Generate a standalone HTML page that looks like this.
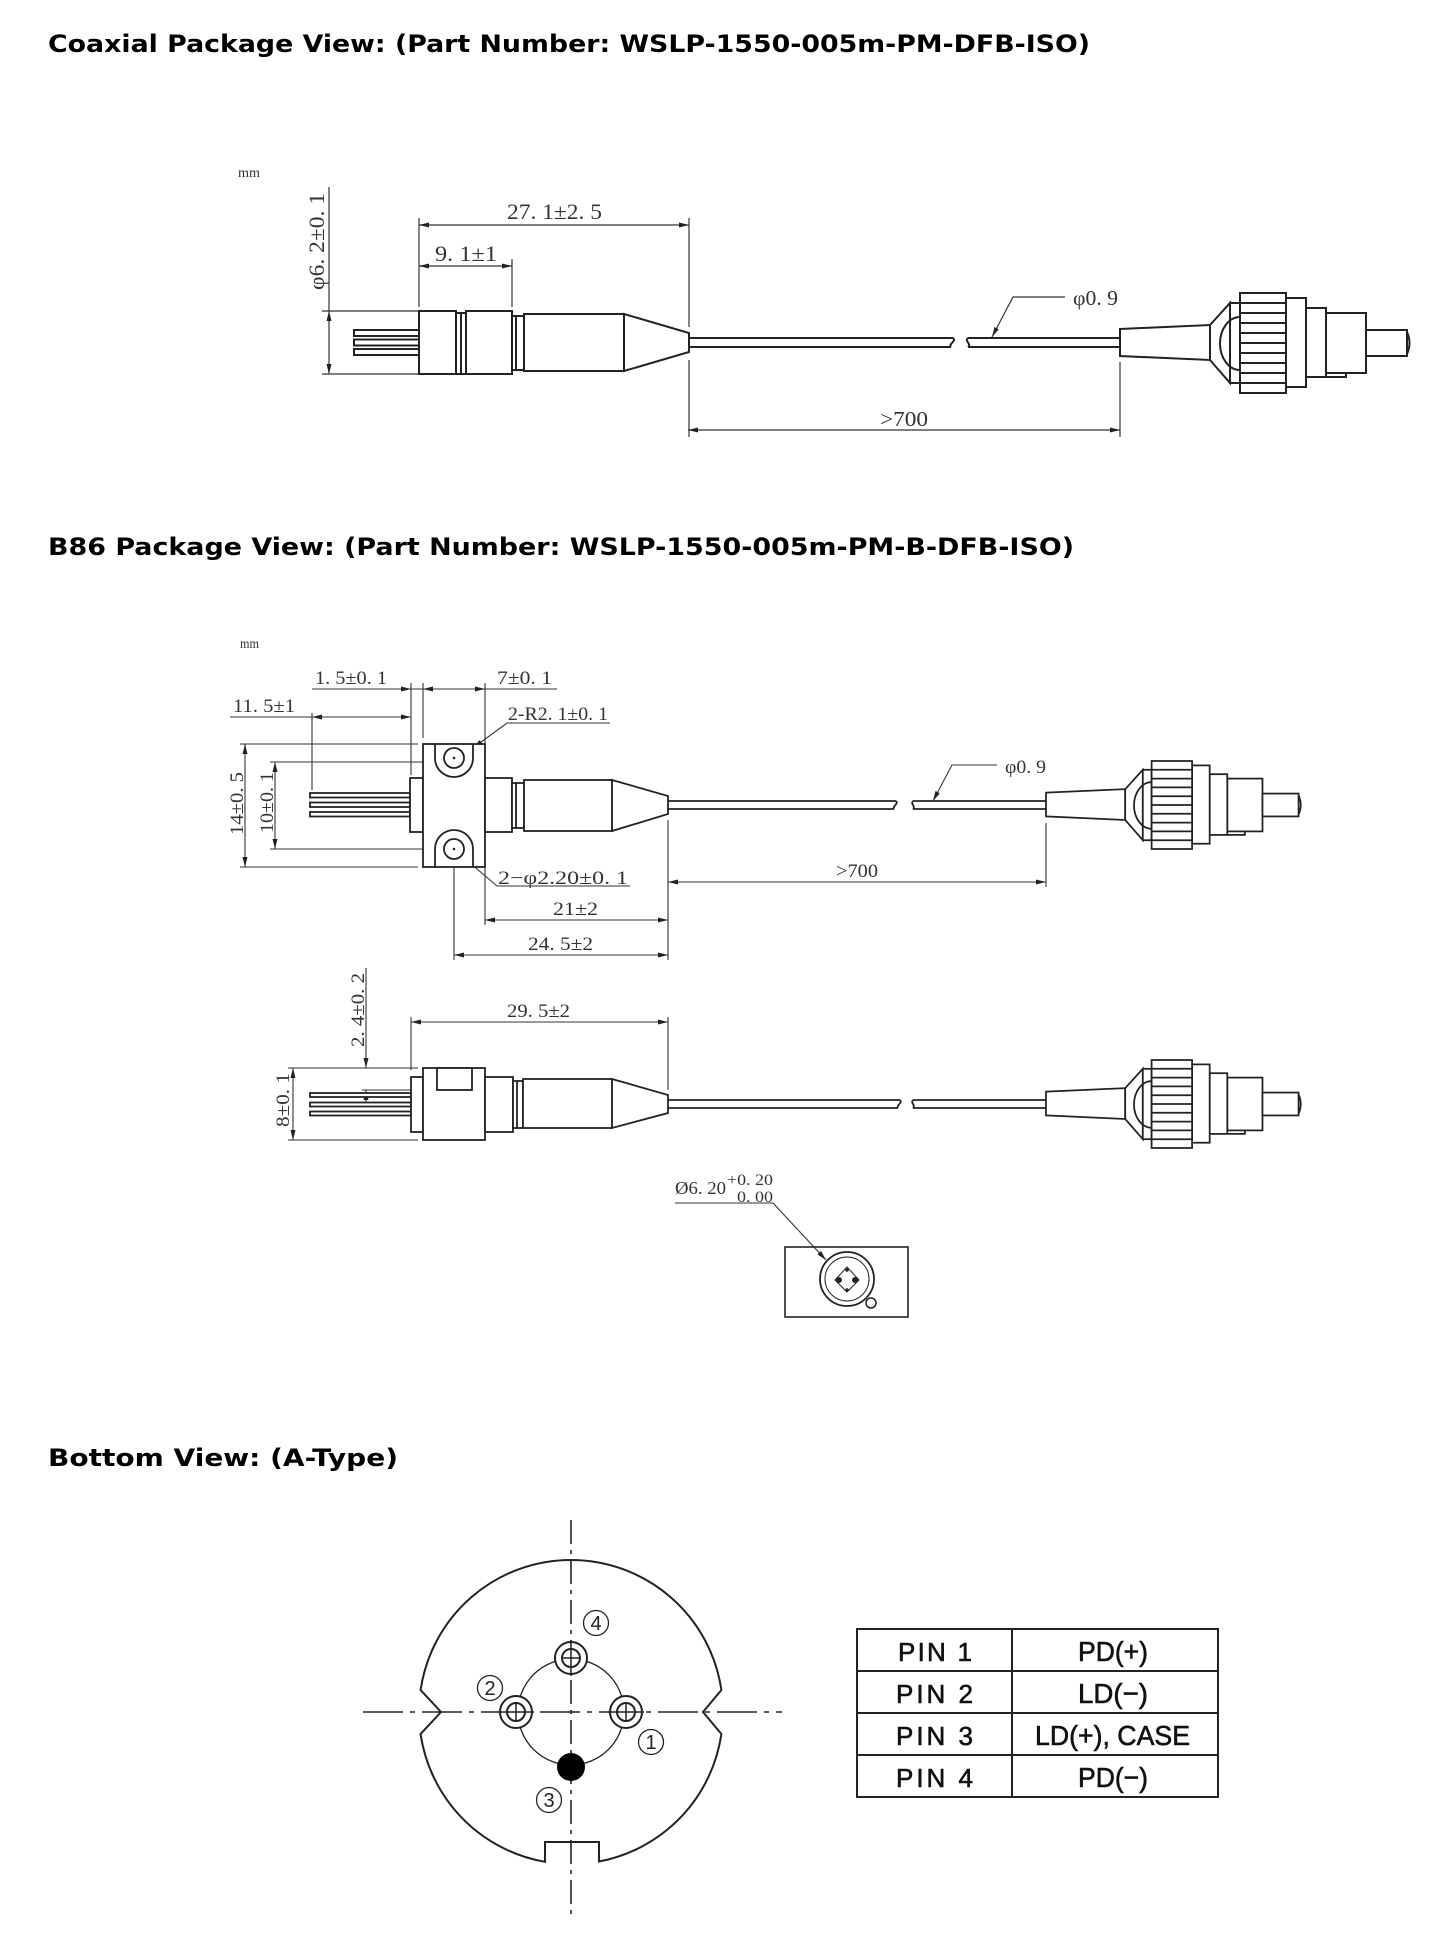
<!DOCTYPE html>
<html>
<head>
<meta charset="utf-8">
<style>
  html,body{margin:0;padding:0;background:#fff;}
  svg{display:block;}
</style>
</head>
<body>
<svg width="1454" height="1954" viewBox="0 0 1454 1954" xmlns="http://www.w3.org/2000/svg">
  <defs>
    <marker id="a" viewBox="0 0 10 6" refX="10" refY="3" markerWidth="10" markerHeight="6" markerUnits="userSpaceOnUse" orient="auto-start-reverse">
      <path d="M0,0.5 L10,3 L0,5.5 z" fill="#222"/>
    </marker>
    <g id="conn" fill="#fff" stroke="#222" stroke-width="2">
      <polygon points="1120,329 1210,325 1210,360 1120,356"/>
      <polygon points="1210,325 1230,303 1230,383 1210,360"/>
      <rect x="1230" y="303" width="10" height="80"/>
      <path d="M1240,317 A20,26.5 0 0 0 1240,370" fill="none"/>
      <rect x="1326" y="313" width="40" height="60"/>
      <path d="M1326,377 H1346 V373" fill="none"/>
      <rect x="1306" y="308" width="20" height="69"/>
      <rect x="1286" y="298" width="20" height="89"/>
      <rect x="1240" y="293" width="46" height="100"/>
      <path d="M1240,303 H1286 M1240,313 H1286 M1240,323 H1286 M1240,333 H1286 M1240,343 H1286 M1240,353 H1286 M1240,363 H1286 M1240,373 H1286 M1240,383 H1286" fill="none"/>
      <rect x="1366" y="330" width="41" height="26"/>
      <path d="M1407,332 Q1412,343 1407,354" fill="none"/>
    </g>
  </defs>

  <!-- ===== Titles ===== -->
  <g font-family="'DejaVu Sans', 'Liberation Sans', sans-serif" font-weight="bold" font-size="24" fill="#000">
    <text x="48" y="52" textLength="1042" lengthAdjust="spacingAndGlyphs">Coaxial Package View: (Part Number: WSLP-1550-005m-PM-DFB-ISO)</text>
    <text x="48" y="555" textLength="1026" lengthAdjust="spacingAndGlyphs">B86 Package View: (Part Number: WSLP-1550-005m-PM-B-DFB-ISO)</text>
    <text x="48" y="1466" textLength="350" lengthAdjust="spacingAndGlyphs">Bottom View: (A-Type)</text>
  </g>

  <!-- ===== COAXIAL ===== -->
  <text x="238" y="177" font-family="'Liberation Serif', serif" font-size="14" fill="#333" textLength="22" lengthAdjust="spacingAndGlyphs">mm</text>

  <g stroke="#333" stroke-width="1.2" fill="none">
    <line x1="329" y1="187" x2="329" y2="311"/>
    <line x1="329" y1="311" x2="329" y2="374" marker-start="url(#a)" marker-end="url(#a)"/>
    <line x1="322" y1="311" x2="419" y2="311"/>
    <line x1="322" y1="374" x2="420" y2="374"/>
    <line x1="419" y1="225" x2="689" y2="225" marker-start="url(#a)" marker-end="url(#a)"/>
    <line x1="419" y1="266" x2="512" y2="266" marker-start="url(#a)" marker-end="url(#a)"/>
    <line x1="419" y1="218" x2="419" y2="307"/>
    <line x1="512" y1="259" x2="512" y2="307"/>
    <line x1="689" y1="218" x2="689" y2="327"/>
    <line x1="689" y1="360" x2="689" y2="437"/>
    <line x1="1120" y1="362" x2="1120" y2="437"/>
    <line x1="688" y1="430" x2="1120" y2="430" marker-start="url(#a)" marker-end="url(#a)"/>
    <polyline points="1065,297 1013,297 992,337" marker-end="url(#a)"/>
  </g>
  <g font-family="'Liberation Serif', serif" fill="#333">
    <text x="507" y="219" font-size="22" textLength="95" lengthAdjust="spacingAndGlyphs">27. 1±2. 5</text>
    <text x="435" y="261" font-size="22" textLength="62" lengthAdjust="spacingAndGlyphs">9. 1±1</text>
    <text transform="translate(324,290) rotate(-90)" font-size="22" textLength="97" lengthAdjust="spacingAndGlyphs">φ6. 2±0. 1</text>
    <text x="1073" y="305" font-size="21" textLength="45" lengthAdjust="spacingAndGlyphs">φ0. 9</text>
    <text x="880" y="426" font-size="21" textLength="48" lengthAdjust="spacingAndGlyphs">&gt;700</text>
  </g>

  <g fill="#fff" stroke="#222" stroke-width="2">
    <rect x="354" y="330" width="65" height="6"/>
    <rect x="354" y="339.5" width="65" height="6"/>
    <rect x="354" y="349" width="65" height="6"/>
    <rect x="419" y="311" width="37" height="63"/>
    <rect x="456" y="313" width="5" height="61"/>
    <rect x="461" y="313" width="5" height="61"/>
    <rect x="466" y="311" width="46" height="63"/>
    <rect x="512" y="316" width="12" height="54"/>
    <line x1="516" y1="316" x2="516" y2="370"/>
    <rect x="524" y="314" width="100" height="57"/>
    <polygon points="624,314 689,333 689,352 624,371"/>
  </g>
  <g stroke="#222" stroke-width="2" fill="none">
    <path d="M689,338 H953 M689,347 H951"/>
    <path d="M953,338 C957,341 948,344 951,347"/>
    <path d="M968,338 H1122 M968,347 H1122"/>
    <path d="M968,338 C964,341 972,344 968,347"/>
  </g>
  <use href="#conn"/>

  <!-- ===== B86 TOP VIEW ===== -->
  <text x="240" y="648" font-family="'Liberation Serif', serif" font-size="14" fill="#333" textLength="19" lengthAdjust="spacingAndGlyphs">mm</text>

  <g stroke="#333" stroke-width="1.1" fill="none">
    <line x1="312" y1="689" x2="557" y2="689"/>
    <line x1="230" y1="717" x2="411" y2="717"/>
    <line x1="411" y1="683" x2="411" y2="775"/>
    <line x1="423" y1="683" x2="423" y2="738"/>
    <line x1="485" y1="683" x2="485" y2="743"/>
    <line x1="312" y1="713" x2="312" y2="790"/>
    <line x1="245" y1="744" x2="245" y2="867" marker-start="url(#a)" marker-end="url(#a)"/>
    <line x1="240" y1="744" x2="418" y2="744"/>
    <line x1="240" y1="867" x2="418" y2="867"/>
    <line x1="275" y1="762" x2="275" y2="849" marker-start="url(#a)" marker-end="url(#a)"/>
    <line x1="270" y1="762" x2="453" y2="762"/>
    <line x1="270" y1="849" x2="453" y2="849"/>
    <polyline points="610,723 507,723 473,748" marker-end="url(#a)"/>
    <polyline points="630,886 497,886 463,857" marker-end="url(#a)"/>
    <line x1="454" y1="867" x2="454" y2="960"/>
    <line x1="485" y1="867" x2="485" y2="925"/>
    <line x1="668" y1="820" x2="668" y2="960"/>
    <line x1="485" y1="920" x2="668" y2="920" marker-start="url(#a)" marker-end="url(#a)"/>
    <line x1="454" y1="955" x2="668" y2="955" marker-start="url(#a)" marker-end="url(#a)"/>
    <line x1="668" y1="882" x2="1046" y2="882" marker-start="url(#a)" marker-end="url(#a)"/>
    <line x1="1046" y1="823" x2="1046" y2="887"/>
    <polyline points="997,765 952,765 933,801" marker-end="url(#a)"/>
  </g>
  <g fill="#222">
    <polygon points="411,689 401,686.5 401,691.5"/>
    <polygon points="423,689 433,686.5 433,691.5"/>
    <polygon points="485,689 475,686.5 475,691.5"/>
    <polygon points="312,717 322,714.5 322,719.5"/>
    <polygon points="411,717 401,714.5 401,719.5"/>
  </g>
  <g font-family="'Liberation Serif', serif" fill="#333" font-size="19">
    <text x="315" y="684" textLength="72" lengthAdjust="spacingAndGlyphs">1. 5±0. 1</text>
    <text x="497" y="684" textLength="55" lengthAdjust="spacingAndGlyphs">7±0. 1</text>
    <text x="233" y="712" textLength="62" lengthAdjust="spacingAndGlyphs">11. 5±1</text>
    <text x="508" y="720" textLength="100" lengthAdjust="spacingAndGlyphs">2-R2. 1±0. 1</text>
    <text x="498" y="884" textLength="130" lengthAdjust="spacingAndGlyphs">2−φ2.20±0. 1</text>
    <text x="553" y="915" textLength="45" lengthAdjust="spacingAndGlyphs">21±2</text>
    <text x="528" y="950" textLength="65" lengthAdjust="spacingAndGlyphs">24. 5±2</text>
    <text x="836" y="877" textLength="42" lengthAdjust="spacingAndGlyphs">&gt;700</text>
    <text x="1005" y="773" textLength="41" lengthAdjust="spacingAndGlyphs">φ0. 9</text>
    <text transform="translate(243,835) rotate(-90)" textLength="63" lengthAdjust="spacingAndGlyphs">14±0. 5</text>
    <text transform="translate(273,833) rotate(-90)" textLength="61" lengthAdjust="spacingAndGlyphs">10±0. 1</text>
  </g>

  <g fill="#fff" stroke="#222" stroke-width="1.8">
    <rect x="310" y="793" width="100" height="4.5"/>
    <rect x="310" y="802.5" width="100" height="4.5"/>
    <rect x="310" y="812" width="100" height="4.5"/>
    <rect x="410" y="778" width="13" height="54"/>
    <rect x="423" y="744" width="62" height="123"/>
    <rect x="485" y="778" width="27" height="54"/>
    <rect x="512" y="783" width="12" height="45"/>
    <line x1="516" y1="783" x2="516" y2="828"/>
    <rect x="524" y="780" width="88" height="51"/>
    <polygon points="612,780 668,796 668,814 612,831"/>
  </g>
  <g fill="none" stroke="#222" stroke-width="1.8">
    <path d="M435,744 V758 A19,19 0 0 0 473,758 V744"/>
    <circle cx="454" cy="758" r="10"/>
    <path d="M435,867 V849 A19,19 0 0 1 473,849 V867"/>
    <circle cx="454" cy="849" r="10"/>
  </g>
  <circle cx="454" cy="758" r="1.3" fill="#222"/>
  <circle cx="454" cy="849" r="1.3" fill="#222"/>
  <g stroke="#222" stroke-width="1.8" fill="none">
    <path d="M668,801 H896 M668,809 H894"/>
    <path d="M896,801 C899,804 892,806 894,809"/>
    <path d="M913,801 H1048 M913,809 H1048"/>
    <path d="M913,801 C910,804 916,806 913,809"/>
  </g>
  <use href="#conn" transform="translate(1046,805) scale(0.88) translate(-1120,-343)"/>

  <!-- ===== B86 SIDE VIEW ===== -->
  <g stroke="#333" stroke-width="1.1" fill="none">
    <line x1="366" y1="968" x2="366" y2="1068" marker-end="url(#a)"/>
    <line x1="366" y1="1107" x2="366" y2="1090" marker-end="url(#a)"/>
    <line x1="362" y1="1090" x2="432" y2="1090"/>
    <line x1="411" y1="1022" x2="668" y2="1022" marker-start="url(#a)" marker-end="url(#a)"/>
    <line x1="411" y1="1017" x2="411" y2="1070"/>
    <line x1="668" y1="1017" x2="668" y2="1090"/>
    <line x1="293" y1="1068" x2="293" y2="1140" marker-start="url(#a)" marker-end="url(#a)"/>
    <line x1="288" y1="1068" x2="418" y2="1068"/>
    <line x1="288" y1="1140" x2="418" y2="1140"/>
  </g>
  <g font-family="'Liberation Serif', serif" fill="#333" font-size="19">
    <text x="507" y="1017" textLength="63" lengthAdjust="spacingAndGlyphs">29. 5±2</text>
    <text transform="translate(364,1047) rotate(-90)" textLength="74" lengthAdjust="spacingAndGlyphs">2. 4±0. 2</text>
    <text transform="translate(289,1127) rotate(-90)" textLength="54" lengthAdjust="spacingAndGlyphs">8±0. 1</text>
  </g>
  <g fill="#fff" stroke="#222" stroke-width="1.8">
    <rect x="310" y="1093" width="101" height="4"/>
    <rect x="310" y="1102.5" width="101" height="4"/>
    <rect x="310" y="1111.5" width="101" height="4"/>
    <rect x="411" y="1077" width="12" height="55"/>
    <rect x="423" y="1068" width="62" height="72"/>
    <rect x="437" y="1068" width="35" height="22"/>
    <rect x="485" y="1077" width="28" height="55"/>
    <rect x="513" y="1081" width="10" height="47"/>
    <line x1="517" y1="1081" x2="517" y2="1128"/>
    <rect x="523" y="1079" width="89" height="49"/>
    <polygon points="612,1079 668,1095 668,1113 612,1128"/>
  </g>
  <g stroke="#222" stroke-width="1.8" fill="none">
    <path d="M668,1100 H900 M668,1108 H898"/>
    <path d="M900,1100 C903,1103 896,1105 898,1108"/>
    <path d="M913,1100 H1048 M913,1108 H1048"/>
    <path d="M913,1100 C910,1103 916,1105 913,1108"/>
  </g>
  <use href="#conn" transform="translate(1046,1104) scale(0.88) translate(-1120,-343)"/>

  <!-- ===== End view ===== -->
  <g font-family="'Liberation Serif', serif" fill="#333">
    <text x="675" y="1194" font-size="18" textLength="51" lengthAdjust="spacingAndGlyphs">Ø6. 20</text>
    <text x="727" y="1185" font-size="16" textLength="46" lengthAdjust="spacingAndGlyphs">+0. 20</text>
    <text x="737" y="1202" font-size="16" textLength="36" lengthAdjust="spacingAndGlyphs">0. 00</text>
  </g>
  <g stroke="#333" stroke-width="1.1" fill="none">
    <line x1="675" y1="1203" x2="773" y2="1203"/>
    <line x1="773" y1="1203" x2="826" y2="1260" marker-end="url(#a)"/>
  </g>
  <rect x="785" y="1247" width="123" height="70" fill="none" stroke="#222" stroke-width="1.6"/>
  <g fill="none" stroke="#222">
    <circle cx="847" cy="1279" r="27" stroke-width="1.8"/>
    <circle cx="847" cy="1279" r="22" stroke-width="1"/>
    <polygon points="847,1267 859,1280 847,1292 835,1280" stroke-width="1"/>
    <circle cx="871" cy="1303" r="5" fill="#fff" stroke-width="1.5"/>
  </g>
  <g fill="#222">
    <circle cx="839" cy="1280" r="3"/>
    <circle cx="855" cy="1280" r="3"/>
    <circle cx="847" cy="1270" r="1.8"/>
    <circle cx="847" cy="1290" r="1.8"/>
  </g>

  <!-- ===== Bottom view ===== -->
  <path d="M420.6,1690 A152,152 0 0 1 721.4,1690 L703,1712 L721.4,1734 A152,152 0 0 1 599,1861.5 L599,1842 L545,1842 L545,1861.8 A152,152 0 0 1 420.6,1734 L441,1712 Z" fill="#fff" stroke="#222" stroke-width="2"/>
  <circle cx="571" cy="1712" r="53" fill="none" stroke="#222" stroke-width="1.3"/>
  <g stroke="#222" stroke-width="1.6" fill="none">
    <line x1="571" y1="1520" x2="571" y2="1920" stroke-dasharray="24 6 4 6"/>
    <line x1="363" y1="1712" x2="782" y2="1712" stroke-dasharray="40 7 5 7"/>
  </g>
  <g fill="#fff" stroke="#222" stroke-width="2">
    <circle cx="571" cy="1658" r="16"/>
    <circle cx="571" cy="1658" r="9"/>
    <circle cx="516" cy="1712" r="16"/>
    <circle cx="516" cy="1712" r="9"/>
    <circle cx="626" cy="1712" r="16"/>
    <circle cx="626" cy="1712" r="9"/>
  </g>
  <g stroke="#222" stroke-width="1.5">
    <line x1="571" y1="1640" x2="571" y2="1676"/>
    <line x1="562" y1="1658" x2="580" y2="1658"/>
    <line x1="498" y1="1712" x2="534" y2="1712"/>
    <line x1="516" y1="1703" x2="516" y2="1721"/>
    <line x1="608" y1="1712" x2="644" y2="1712"/>
    <line x1="626" y1="1703" x2="626" y2="1721"/>
  </g>
  <circle cx="571" cy="1767" r="14" fill="#000"/>
  <g fill="#fff" stroke="#222" stroke-width="1.3">
    <circle cx="596" cy="1623" r="12.5"/>
    <circle cx="490" cy="1688" r="12.5"/>
    <circle cx="651" cy="1742" r="12.5"/>
    <circle cx="549" cy="1800" r="12.5"/>
  </g>
  <g font-family="'Liberation Sans', sans-serif" font-size="20" fill="#222" text-anchor="middle">
    <text x="596" y="1630">4</text>
    <text x="490" y="1695">2</text>
    <text x="651" y="1749">1</text>
    <text x="549" y="1807">3</text>
  </g>

  <!-- Table -->
  <g fill="none" stroke="#222" stroke-width="2">
    <rect x="857" y="1629" width="361" height="168"/>
    <line x1="1012" y1="1629" x2="1012" y2="1797"/>
    <line x1="857" y1="1671" x2="1218" y2="1671"/>
    <line x1="857" y1="1713" x2="1218" y2="1713"/>
    <line x1="857" y1="1755" x2="1218" y2="1755"/>
  </g>
  <g font-family="'Liberation Sans', sans-serif" font-size="26" fill="#111" stroke="#111" stroke-width="0.6">
    <text x="898" y="1661" textLength="74" lengthAdjust="spacing">PIN 1</text>
    <text x="896" y="1703" textLength="77" lengthAdjust="spacing">PIN 2</text>
    <text x="896" y="1745" textLength="77" lengthAdjust="spacing">PIN 3</text>
    <text x="896" y="1787" textLength="77" lengthAdjust="spacing">PIN 4</text>
  </g>
  <g font-family="'Liberation Sans', sans-serif" font-size="28" fill="#111" stroke="#111" stroke-width="0.6">
    <text x="1078" y="1661" textLength="70" lengthAdjust="spacingAndGlyphs">PD(+)</text>
    <text x="1078" y="1703" textLength="70" lengthAdjust="spacingAndGlyphs">LD(−)</text>
    <text x="1035" y="1745" textLength="155" lengthAdjust="spacingAndGlyphs">LD(+), CASE</text>
    <text x="1078" y="1787" textLength="70" lengthAdjust="spacingAndGlyphs">PD(−)</text>
  </g>
</svg>
</body>
</html>
